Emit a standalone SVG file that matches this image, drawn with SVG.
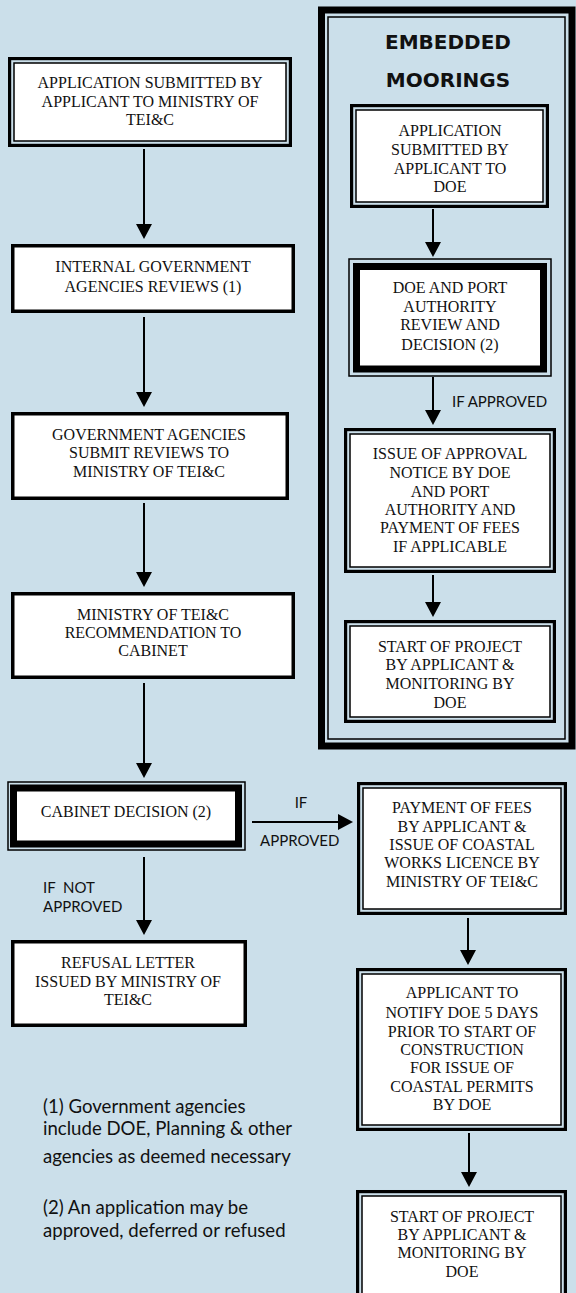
<svg xmlns="http://www.w3.org/2000/svg" width="576" height="1293" viewBox="0 0 576 1293">
<defs>
<style>
.bg{fill:#cbdfea}
.t{font-family:"Liberation Serif","Times New Roman",serif;font-size:16px;fill:#111;text-anchor:middle}
.lb{font-family:Lato,"Open Sans",sans-serif;font-size:15px;fill:#111}
.fn{font-family:Lato,"Open Sans",sans-serif;font-size:18.6px;fill:#111}
.ttl{font-family:"DejaVu Sans",sans-serif;font-weight:bold;font-size:20px;fill:#111;text-anchor:middle}
.o{fill:#cbdfea;stroke:#000;stroke-width:3.2}
.i{fill:#fff;stroke:#000;stroke-width:1.5}
.s{fill:#fff;stroke:#000;stroke-width:3.5}
.thin{fill:#cbdfea;stroke:#000;stroke-width:1.5}
.thick{fill:#fff;stroke:#000;stroke-width:7}
.c{stroke:#000;stroke-width:2;fill:none;marker-end:url(#ah)}
</style>
<marker id="ah" viewBox="0 0 15 16" markerWidth="15" markerHeight="16" markerUnits="userSpaceOnUse" refX="5" refY="8" orient="auto">
<path d="M0,0 L15,8 L0,16 Z" fill="#000"/>
</marker>
</defs>
<rect class="bg" x="0" y="0" width="576" height="1293"/>

<g id="embedded-frame">
<rect x="321.5" y="10" width="250.5" height="736" fill="none" stroke="#000" stroke-width="7"/>
<rect x="328" y="17" width="237" height="722" fill="none" stroke="#000" stroke-width="1.5"/>
<text class="ttl" x="448" y="49">EMBEDDED</text>
<text class="ttl" x="448" y="87">MOORINGS</text>
</g>

<g id="connectors">
<line class="c" x1="144" y1="149" x2="144" y2="229"/>
<line class="c" x1="144" y1="317" x2="144" y2="397"/>
<line class="c" x1="144" y1="503" x2="144" y2="577"/>
<line class="c" x1="144" y1="683" x2="144" y2="768"/>
<line class="c" x1="144" y1="857" x2="144" y2="925"/>
<line class="c" x1="252" y1="822" x2="343" y2="822"/>
<line class="c" x1="433" y1="209" x2="433" y2="247"/>
<line class="c" x1="433" y1="377" x2="433" y2="415"/>
<line class="c" x1="433" y1="575" x2="433" y2="607"/>
<line class="c" x1="468" y1="918" x2="468" y2="955"/>
<line class="c" x1="469" y1="1133" x2="469" y2="1177"/>
<text class="lb" x="452" y="407">IF APPROVED</text>
<text class="lb" x="301" y="808" text-anchor="middle">IF</text>
<text class="lb" x="260" y="846">APPROVED</text>
<text class="lb" x="43" y="893">IF&#160;&#160;NOT</text>
<text class="lb" x="43" y="912">APPROVED</text>
</g>

<g id="n1">
<rect class="o" x="9.6" y="58.6" width="280.8" height="86.8"/>
<rect class="i" x="14" y="63" width="272" height="78"/>
<text class="t" x="150" y="88">APPLICATION SUBMITTED BY</text>
<text class="t" x="150" y="107">APPLICANT TO MINISTRY OF</text>
<text class="t" x="150" y="125">TEI&amp;C</text>
</g>

<g id="n2">
<rect class="s" x="12.75" y="245.75" width="280.5" height="65.5"/>
<text class="t" x="153" y="272">INTERNAL GOVERNMENT</text>
<text class="t" x="153" y="292">AGENCIES REVIEWS (1)</text>
</g>

<g id="n3">
<rect class="s" x="12.75" y="413.75" width="274.5" height="84.5"/>
<text class="t" x="149" y="440">GOVERNMENT AGENCIES</text>
<text class="t" x="149" y="458">SUBMIT REVIEWS TO</text>
<text class="t" x="149" y="477">MINISTRY OF TEI&amp;C</text>
</g>

<g id="n4">
<rect class="s" x="12.75" y="593.75" width="280.5" height="83.5"/>
<text class="t" x="153" y="620">MINISTRY OF TEI&amp;C</text>
<text class="t" x="153" y="638">RECOMMENDATION TO</text>
<text class="t" x="153" y="656">CABINET</text>
</g>

<g id="n5">
<rect class="thin" x="8" y="782" width="237" height="68"/>
<rect class="thick" x="13.5" y="788" width="225" height="56"/>
<text class="t" x="126" y="817">CABINET DECISION (2)</text>
</g>

<g id="n6">
<rect class="s" x="12.75" y="941.75" width="232.5" height="83.5"/>
<text class="t" x="128" y="968">REFUSAL LETTER</text>
<text class="t" x="128" y="987">ISSUED BY MINISTRY OF</text>
<text class="t" x="128" y="1005">TEI&amp;C</text>
</g>

<g id="n7">
<rect class="o" x="358.6" y="783.6" width="206.8" height="129.8"/>
<rect class="i" x="363" y="788" width="198" height="121"/>
<text class="t" x="462" y="813">PAYMENT OF FEES</text>
<text class="t" x="462" y="832">BY APPLICANT &amp;</text>
<text class="t" x="462" y="850">ISSUE OF COASTAL</text>
<text class="t" x="462" y="868">WORKS LICENCE BY</text>
<text class="t" x="462" y="887">MINISTRY OF TEI&amp;C</text>
</g>

<g id="n8">
<rect class="o" x="357.6" y="969.6" width="207.8" height="159.8"/>
<rect class="i" x="362" y="974" width="199" height="151"/>
<text class="t" x="462" y="998">APPLICANT TO</text>
<text class="t" x="462" y="1018">NOTIFY DOE 5 DAYS</text>
<text class="t" x="462" y="1037">PRIOR TO START OF</text>
<text class="t" x="462" y="1055">CONSTRUCTION</text>
<text class="t" x="462" y="1073">FOR ISSUE OF</text>
<text class="t" x="462" y="1092">COASTAL PERMITS</text>
<text class="t" x="462" y="1110">BY DOE</text>
</g>

<g id="n9">
<rect class="o" x="357.6" y="1191.6" width="207.8" height="106.8"/>
<rect class="i" x="362" y="1196" width="199" height="98"/>
<text class="t" x="462" y="1222">START OF PROJECT</text>
<text class="t" x="462" y="1240">BY APPLICANT &amp;</text>
<text class="t" x="462" y="1258">MONITORING BY</text>
<text class="t" x="462" y="1277">DOE</text>
</g>

<g id="e1">
<rect class="o" x="351.6" y="105.6" width="195.8" height="100.8"/>
<rect class="i" x="356" y="110" width="187" height="92"/>
<text class="t" x="450" y="136">APPLICATION</text>
<text class="t" x="450" y="155">SUBMITTED BY</text>
<text class="t" x="450" y="174">APPLICANT TO</text>
<text class="t" x="450" y="192">DOE</text>
</g>

<g id="e2">
<rect class="thin" x="349" y="259" width="202" height="117"/>
<rect class="thick" x="356.5" y="266.5" width="187" height="102.5"/>
<text class="t" x="450" y="293">DOE AND PORT</text>
<text class="t" x="450" y="312">AUTHORITY</text>
<text class="t" x="450" y="330">REVIEW AND</text>
<text class="t" x="450" y="350">DECISION (2)</text>
</g>

<g id="e3">
<rect class="o" x="345.6" y="429.6" width="208.8" height="141.8"/>
<rect class="i" x="350" y="434" width="200" height="133"/>
<text class="t" x="450" y="459">ISSUE OF APPROVAL</text>
<text class="t" x="450" y="478">NOTICE BY DOE</text>
<text class="t" x="450" y="497">AND PORT</text>
<text class="t" x="450" y="515">AUTHORITY AND</text>
<text class="t" x="450" y="533">PAYMENT OF FEES</text>
<text class="t" x="450" y="552">IF APPLICABLE</text>
</g>

<g id="e4">
<rect class="o" x="345.6" y="621.6" width="208.8" height="99.8"/>
<rect class="i" x="350" y="626" width="200" height="91"/>
<text class="t" x="450" y="652">START OF PROJECT</text>
<text class="t" x="450" y="670">BY APPLICANT &amp;</text>
<text class="t" x="450" y="689">MONITORING BY</text>
<text class="t" x="450" y="708">DOE</text>
</g>

<g id="notes">
<text class="fn" x="43" y="1113">(1) Government agencies</text>
<text class="fn" x="43" y="1135">include DOE, Planning &amp; other</text>
<text class="fn" x="43" y="1163">agencies as deemed necessary</text>
<text class="fn" x="43" y="1214">(2) An application may be</text>
<text class="fn" x="43" y="1237">approved, deferred or refused</text>
</g>
</svg>
